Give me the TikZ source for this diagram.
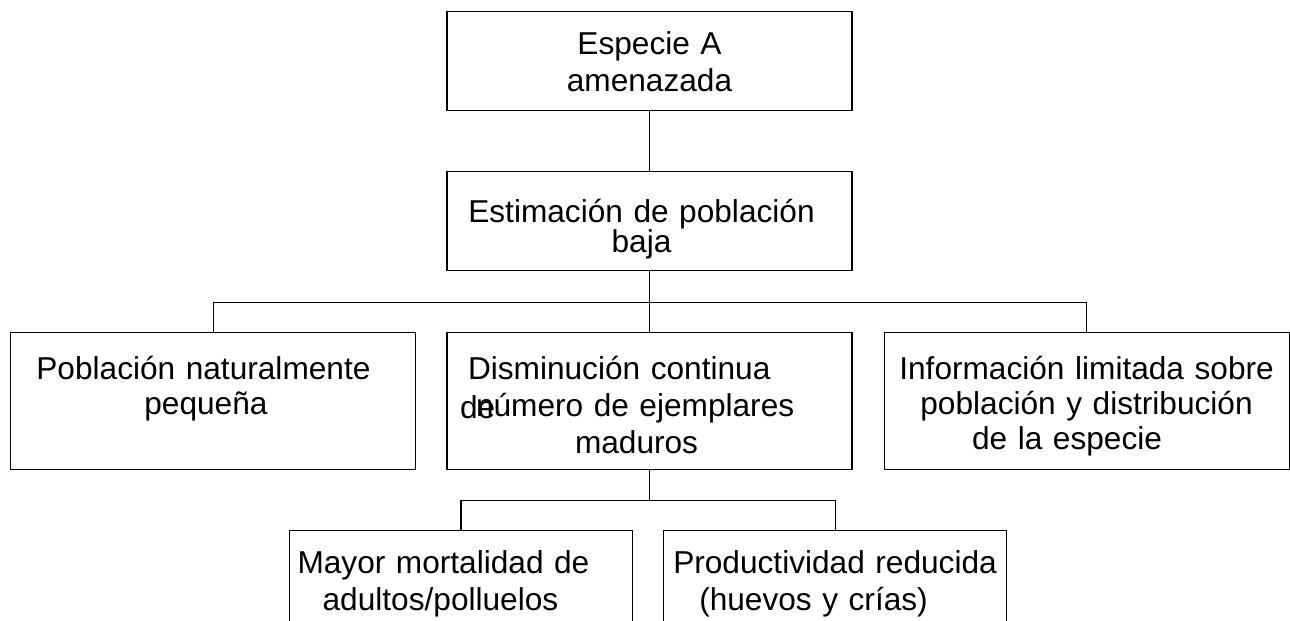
\documentclass[tikz,border=0pt]{standalone}
\usepackage{fontspec}
\setmainfont{Liberation Sans}
\usetikzlibrary{positioning}

\begin{document}
\begin{tikzpicture}[line width=0.6pt,
    box/.style={draw, rectangle, inner sep=0pt, text width=8.1cm, align=center, font=\fontsize{18}{21}\selectfont},
    topbox/.style={box, text height=0.86cm, text depth=1.12cm},
    rowbox/.style={box, text height=0.94cm, text depth=1.8cm},
    lowbox/.style={box, text width=6.86cm, text height=0.86cm, text depth=1.88cm}]
    \useasboundingbox (0,0) rectangle (25.8,-12.4);

    \node[topbox, anchor=north] (especie) at (12.99,-0.22) {Especie A\\amenazada};
    \node[topbox, text height=1.02cm, text depth=0.96cm, below=1.2cm of especie] (estimacion)
        {Estimación de población\hspace*{0.32cm}\mbox{}\\[-4pt]baja\hspace*{0.32cm}\mbox{}};

    \node[rowbox, align=left, below=1.22cm of estimacion] (disminucion)
        {\hspace*{0.42cm}Disminución continua\\
         \hspace*{0.26cm}\rlap{\raisebox{-1pt}{de}}\hspace{0.32cm}número de ejemplares\\
         \hspace*{2.56cm}maduros};
    \node[rowbox, left=0.6cm of disminucion] (poblacion)
        {Población naturalmente\hspace*{0.4cm}\mbox{}\\[-1pt]pequeña\hspace*{0.3cm}\mbox{}};
    \node[rowbox, right=0.62cm of disminucion] (informacion)
        {Información limitada sobre\\[-1pt]población y distribución\\[-1pt]de la especie\hspace*{0.78cm}\mbox{}};

    \node[lowbox, below left=1.2cm and 0.33cm of disminucion.south] (mortalidad)
        {Mayor mortalidad de\hspace*{0.7cm}\mbox{}\\adultos/polluelos\hspace*{0.82cm}\mbox{}};
    \node[lowbox, below right=1.2cm and 0.27cm of disminucion.south] (productividad)
        {Productividad reducida\\(huevos y crías)\hspace*{0.86cm}\mbox{}};

    \coordinate[below=0.62cm of estimacion] (bus1);
    \coordinate[below=0.6cm of disminucion] (bus2);

    \draw (especie) -- (estimacion);
    \draw (estimacion) -- (disminucion);
    \draw (poblacion) |- (bus1) -| (informacion);
    \draw (disminucion) -- (bus2);
    \draw (mortalidad) |- (bus2) -| (productividad);
\end{tikzpicture}
\end{document}
